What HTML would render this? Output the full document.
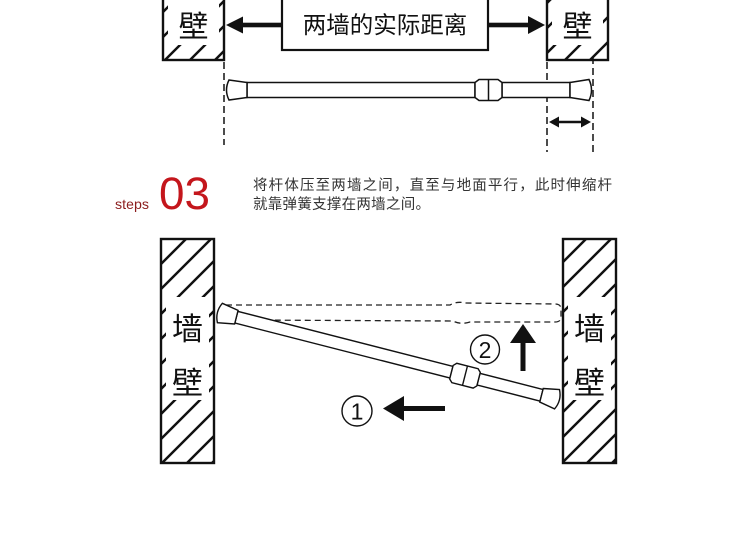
<!DOCTYPE html>
<html><head><meta charset="utf-8"><style>
html,body{margin:0;padding:0;background:#fff;width:750px;height:538px;overflow:hidden}
svg{display:block}
.cn{font-family:"Liberation Sans","Noto Sans CJK SC",sans-serif}
</style></head><body>
<svg width="750" height="538" viewBox="0 0 750 538" xmlns="http://www.w3.org/2000/svg">
<defs>
<pattern id="h" width="25" height="25" patternUnits="userSpaceOnUse">
<path d="M-2,27 L27,-2 M-3,3 L3,-3 M22,28 L28,22" stroke="#111" stroke-width="2.5" fill="none"/>
</pattern>
</defs>
<rect width="750" height="538" fill="#fff"/>

<!-- TOP SECTION -->
<rect x="163" y="-3" width="61" height="63" fill="url(#h)"/>
<rect x="168" y="-3" width="51" height="48" fill="#fff"/>
<rect x="163" y="-3" width="61" height="63" fill="none" stroke="#111" stroke-width="2.4"/>
<text x="193.5" y="37" font-size="30" text-anchor="middle" class="cn" fill="#111">壁</text>
<rect x="547" y="-3" width="61" height="63" fill="url(#h)"/>
<rect x="552" y="-3" width="51" height="48" fill="#fff"/>
<rect x="547" y="-3" width="61" height="63" fill="none" stroke="#111" stroke-width="2.4"/>
<text x="577.5" y="37" font-size="30" text-anchor="middle" class="cn" fill="#111">壁</text>

<rect x="282" y="-3" width="206" height="53" fill="#fff" stroke="#111" stroke-width="2.2"/>
<text x="385" y="33" font-size="23.5" text-anchor="middle" class="cn" fill="#111">两墙的实际距离</text>

<rect x="240" y="22.7" width="42" height="4.6" fill="#111"/>
<polygon points="226,25 243,16.5 243,33.5" fill="#111"/>
<rect x="488" y="22.7" width="42" height="4.6" fill="#111"/>
<polygon points="545,25 528,16 528,34" fill="#111"/>

<g stroke="#111" stroke-width="1.5" stroke-dasharray="7 4" fill="none">
<line x1="224" y1="62" x2="224" y2="145"/>
<line x1="547" y1="62" x2="547" y2="152"/>
<line x1="593" y1="57" x2="593" y2="152"/>
</g>

<g transform="translate(226,90)" fill="#fff" stroke="#111" stroke-width="1.5">
<rect x="21" y="-7.5" width="228" height="15"/>
<rect x="276" y="-7.5" width="68" height="15"/>
<path d="M3,-10 L21,-7.5 L21,7.5 L3,10 Q-2,0 3,-10Z"/>
<polygon points="249,-7.5 253,-10.5 272,-10.5 276,-7.5 276,7.5 272,10.5 253,10.5 249,7.5"/>
<line x1="262.5" y1="-10.5" x2="262.5" y2="10.5"/>
<path d="M344,-7.5 L363,-10.5 Q368,0 363,10.5 L344,7.5Z"/>
</g>

<line x1="556" y1="122" x2="584" y2="122" stroke="#111" stroke-width="2.6"/>
<polygon points="549,122 559,116.5 559,127.5" fill="#111"/>
<polygon points="591,122 581,116.5 581,127.5" fill="#111"/>

<!-- STEPS -->
<text x="115" y="209" font-size="14" fill="#8b1c1c" font-family="Liberation Sans, sans-serif" textLength="34" lengthAdjust="spacingAndGlyphs">steps</text>
<text x="159" y="209" font-size="45" fill="#c4161c" font-family="Liberation Sans, sans-serif" textLength="51" lengthAdjust="spacingAndGlyphs">03</text>

<g class="cn" font-size="14.5" fill="#333">
<text x="253" y="190" textLength="359" lengthAdjust="spacing">将杆体压至两墙之间，直至与地面平行，此时伸缩杆</text>
<text x="253" y="209" textLength="177" lengthAdjust="spacing">就靠弹簧支撑在两墙之间。</text>
</g>

<!-- BOTTOM SECTION -->
<rect x="161" y="239" width="53" height="224" fill="url(#h)"/>
<rect x="166" y="297" width="43" height="103" fill="#fff"/>
<rect x="161" y="239" width="53" height="224" fill="none" stroke="#111" stroke-width="2.4"/>
<text x="187.5" y="340" font-size="31" text-anchor="middle" class="cn" fill="#111">墙</text>
<text x="187.5" y="394" font-size="31" text-anchor="middle" class="cn" fill="#111">壁</text>
<rect x="563" y="239" width="53" height="224" fill="url(#h)"/>
<rect x="568" y="297" width="43" height="103" fill="#fff"/>
<rect x="563" y="239" width="53" height="224" fill="none" stroke="#111" stroke-width="2.4"/>
<text x="589.5" y="340" font-size="31" text-anchor="middle" class="cn" fill="#111">墙</text>
<text x="589.5" y="394" font-size="31" text-anchor="middle" class="cn" fill="#111">壁</text>

<path d="M226,305 L450,305 Q457,301 465,303 L555,304 Q561,304 561,309 L561,317 Q561,322 555,322 L470,322 Q461,325 453,321 L236,320" fill="none" stroke="#222" stroke-width="1.3" stroke-dasharray="6 4"/>

<g transform="translate(216,312) rotate(14.35)" fill="#fff" stroke="#111" stroke-width="1.4">
<rect x="21" y="-6" width="222" height="12"/>
<rect x="271" y="-6" width="65" height="12"/>
<path d="M4,-10 L21,-7 L21,7 L4,10 Q-1,0 4,-10Z"/>
<polygon points="243,-7 246,-10 268,-10 271,-7 271,7 268,10 246,10 243,7"/>
<line x1="257" y1="-10" x2="257" y2="10"/>
<path d="M336,-7 L352,-10 Q357,0 352,10 L336,7Z"/>
</g>

<circle cx="485" cy="349.5" r="14.5" fill="#fff" stroke="#111" stroke-width="1.4"/>
<text x="485" y="358" font-size="23" text-anchor="middle" font-family="Liberation Sans, sans-serif" fill="#111">2</text>
<rect x="520.5" y="340" width="5" height="31" fill="#111"/>
<polygon points="523,324 536,343 510,343" fill="#111"/>

<circle cx="357" cy="411" r="15" fill="#fff" stroke="#111" stroke-width="1.4"/>
<text x="357" y="419.5" font-size="23" text-anchor="middle" font-family="Liberation Sans, sans-serif" fill="#111">1</text>
<rect x="402" y="406" width="43" height="5" fill="#111"/>
<polygon points="383,408.5 404,396 404,421" fill="#111"/>
</svg>
</body></html>
